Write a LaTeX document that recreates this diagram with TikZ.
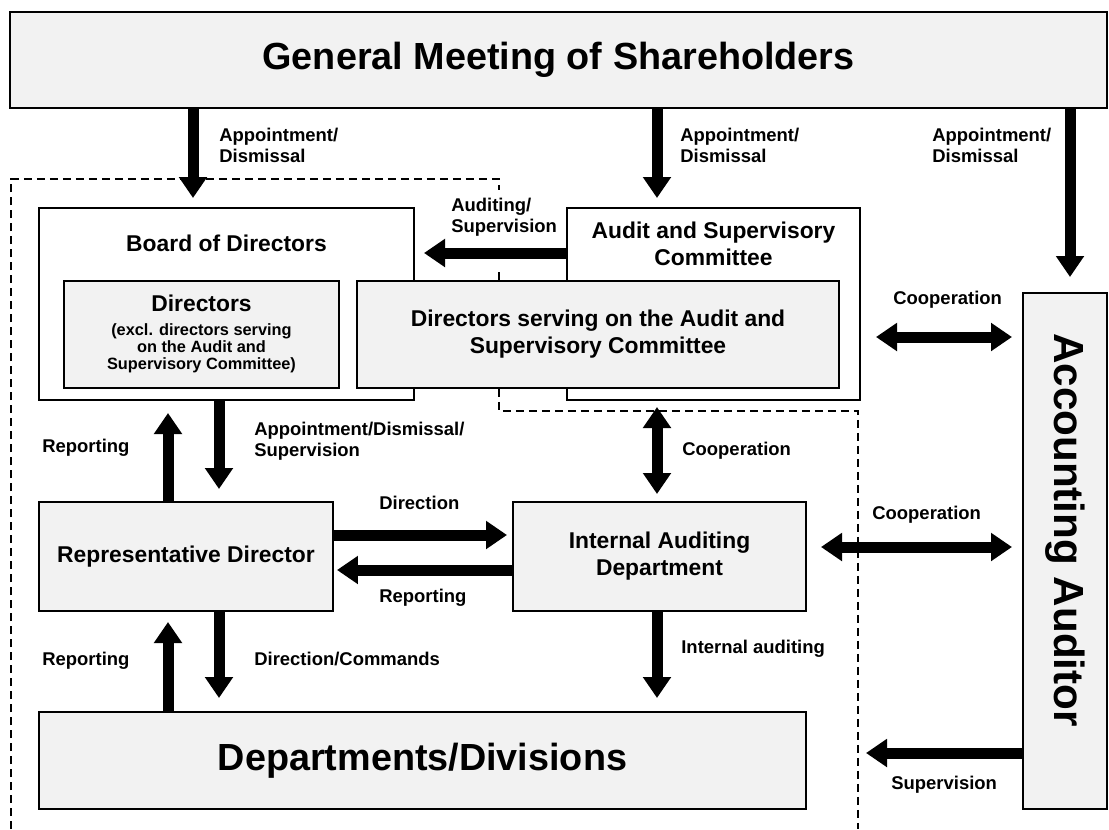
\documentclass[tikz,border=0pt]{standalone}
\usepackage{fontspec}
\setmainfont{Liberation Sans}
\usetikzlibrary{arrows.meta}

\definecolor{boxgray}{HTML}{F2F2F2}

\tikzset{
  gbox/.style={draw, line width=0.8pt, fill=boxgray, inner sep=0pt},
  wbox/.style={draw, line width=0.8pt, fill=white, inner sep=0pt},
  fat/.style={line width=0.22cm, -{Triangle[width=0.54cm,length=0.42cm]}},
  fatboth/.style={line width=0.22cm, {Triangle[width=0.54cm,length=0.42cm]}-{Triangle[width=0.54cm,length=0.42cm]}},
  lbl/.style={font=\bfseries\fontsize{10.5}{12}\selectfont, align=left, inner sep=0pt, anchor=west},
  mid/.style={font=\bfseries\fontsize{13}{15.3}\selectfont, align=center, inner sep=0pt},
  big/.style={font=\bfseries\fontsize{21.5}{24}\selectfont, align=center, inner sep=0pt},
  fence/.style={line width=0.6pt, dash pattern=on 0.16cm off 0.1cm},
}

\begin{document}
\begin{tikzpicture}[x=0.02cm, y=-0.02cm]
  \useasboundingbox (0,0) rectangle (1109,829);

  % dashed fence round the company
  \draw[fence] (11,829) -- (11,179) -- (499,179) -- (499,190);
  \draw[fence] (499,272) -- (499,411) -- (858,411) -- (858,829);

  % boxes
  \node[gbox, big, minimum width=1097*0.02cm, minimum height=96*0.02cm] (gm) at (558.5,60) {General Meeting of Shareholders};

  \node[wbox, minimum width=375*0.02cm, minimum height=192*0.02cm] (bod) at (226.5,304) {};
  \node[mid] (bodtext) at (226.5,243) {Board of Directors};
  \node[wbox, minimum width=293*0.02cm, minimum height=192*0.02cm] (asc) at (713.5,304) {};
  \node[mid] (asctext) at (713.5,243.5) {Audit and Supervisory\\Committee};

  \node[gbox, minimum width=275*0.02cm, minimum height=107*0.02cm] (dir) at (201.5,334.5) {};
  \node[mid] (dirtext) at (201.5,303) {Directors};
  \node[font=\bfseries\fontsize{9.3}{9.6}\selectfont, align=center, inner sep=0pt] (dirsub) at (201.5,348)
    {(excl. directors serving\\on the Audit and\\Supervisory Committee)};
  \node[gbox, mid, minimum width=482*0.02cm, minimum height=107*0.02cm] (dsv) at (598,334.5)
    {Directors serving on the Audit and\\Supervisory Committee};

  \node[gbox, minimum width=84*0.02cm, minimum height=516*0.02cm] (aa) at (1065,551) {};
  \node[big, rotate=-90, font=\bfseries\fontsize{24}{26}\selectfont] (aatext) at (1065,530) {Accounting Auditor};

  \node[gbox, mid, minimum width=294*0.02cm, minimum height=109*0.02cm] (rep) at (186,556.5) {Representative Director};
  \node[gbox, mid, minimum width=293*0.02cm, minimum height=109*0.02cm] (iad) at (659.5,556.5) {Internal Auditing\\Department};
  \node[gbox, big, minimum width=767*0.02cm, minimum height=97*0.02cm] (dep) at (422.5,760.5) {Departments/Divisions};

  % arrow ends
  \coordinate (t1) at (193,198);
  \coordinate (t2) at (657,198);
  \coordinate (t3) at (1070,277);
  \coordinate (t4) at (424,253);
  \coordinate (c5a) at (876,337);
  \coordinate (c5b) at (1012,337);
  \coordinate (t6) at (219,489);
  \coordinate (t7) at (168,413);
  \coordinate (c8a) at (657,407);
  \coordinate (c8b) at (657,494);
  \coordinate (t9) at (507,535);
  \coordinate (t10) at (337,570);
  \coordinate (c11a) at (821,547);
  \coordinate (c11b) at (1012,547);
  \coordinate (t12) at (219,698);
  \coordinate (t13) at (168,622);
  \coordinate (t14) at (657,698);
  \coordinate (t15) at (866,753);

  % arrows
  \draw[fat] (gm.south -| t1) -- (t1);
  \draw[fat] (gm.south -| t2) -- (t2);
  \draw[fat] (gm.south -| t3) -- (t3);
  \draw[fat] (asc.west |- t4) -- (t4);
  \draw[fatboth] (c5a) -- (c5b);
  \draw[fat] (bod.south -| t6) -- (t6);
  \draw[fat] (rep.north -| t7) -- (t7);
  \draw[fatboth] (c8a) -- (c8b);
  \draw[fat] (rep.east |- t9) -- (t9);
  \draw[fat] (iad.west |- t10) -- (t10);
  \draw[fatboth] (c11a) -- (c11b);
  \draw[fat] (rep.south -| t12) -- (t12);
  \draw[fat] (dep.north -| t13) -- (t13);
  \draw[fat] (iad.south -| t14) -- (t14);
  \draw[fat] (aa.west |- t15) -- (t15);

  % labels
  \node[lbl] (l1) at (219,145.5) {Appointment/\\Dismissal};
  \node[lbl] (l2) at (680,145.5) {Appointment/\\Dismissal};
  \node[lbl] (l3) at (932,145.5) {Appointment/\\Dismissal};
  \node[lbl] (l4) at (451,217.5) {Auditing/\\Supervision};
  \node[lbl] (l5) at (893,300) {Cooperation};
  \node[lbl] (l6) at (42,448) {Reporting};
  \node[lbl] (l7) at (254,441.5) {Appointment/Dismissal/\\Supervision};
  \node[lbl] (l8) at (682,451) {Cooperation};
  \node[lbl] (l9) at (379,503) {Direction};
  \node[lbl] (l10) at (379,598) {Reporting};
  \node[lbl] (l11) at (872,515) {Cooperation};
  \node[lbl] (l12) at (42,661) {Reporting};
  \node[lbl] (l13) at (254,659) {Direction/Commands};
  \node[lbl] (l14) at (681,649) {Internal auditing};
  \node[lbl] (l15) at (891,785) {Supervision};
\end{tikzpicture}
\end{document}
